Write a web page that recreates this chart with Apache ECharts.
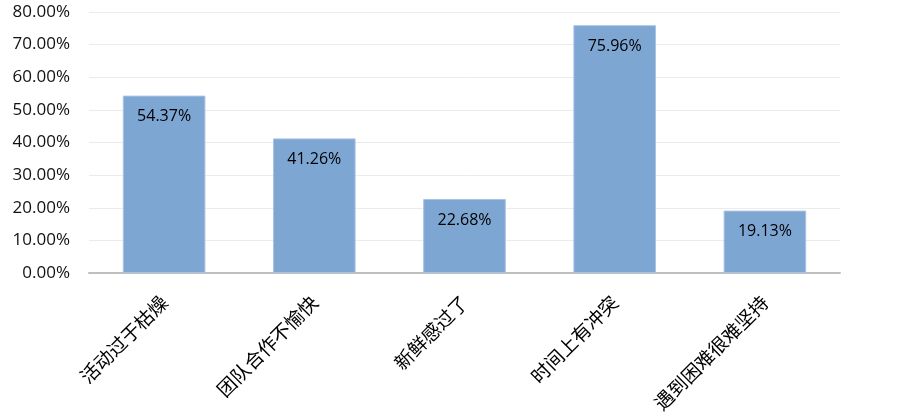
<!DOCTYPE html>
<html>
<head>
<meta charset="utf-8">
<script src="https://cdn.jsdelivr.net/npm/echarts@6/dist/echarts.min.js"></script>
<style>
  html, body { margin: 0; padding: 0; background: #fff; }
  #chart { width: 903px; height: 419px; }
</style>
</head>
<body>
<div id="chart"></div>
<script>
// 类别与数值（百分比）
const categories = ['活动过于枯燥', '团队合作不愉快', '新鲜感过了', '时间上有冲突', '遇到困难很难坚持'];
const values = [54.37, 41.26, 22.68, 75.96, 19.13];

const chart = echarts.init(document.getElementById('chart'), null, { renderer: 'canvas' });

const option = {
  backgroundColor: '#ffffff',
  animation: false,
  grid: {
    left: 89,
    right: 63,
    top: 12,
    bottom: 146
  },
  xAxis: {
    type: 'category',
    data: categories,
    axisLine: {
      lineStyle: { color: '#bfbfbf', width: 2 }
    },
    axisTick: { show: false },
    axisLabel: {
      rotate: 45,
      margin: 26,
      color: '#000',
      fontSize: 19,
      fontFamily: 'Noto Sans CJK SC'
    }
  },
  yAxis: {
    type: 'value',
    min: 0,
    max: 80,
    interval: 10,
    axisLine: { show: false },
    axisTick: { show: false },
    axisLabel: {
      margin: 19,
      color: '#111',
      fontSize: 17,
      fontFamily: 'Open Sans',
      formatter: v => v.toFixed(2) + '%'
    },
    splitLine: {
      lineStyle: { color: '#ebebeb', width: 1 }
    }
  },
  series: [{
    type: 'bar',
    data: values,
    barWidth: '55%',
    itemStyle: {
      color: '#7ea6d3',
      borderColor: '#a9c3e3',
      borderWidth: 1
    },
    label: {
      show: true,
      position: 'insideTop',
      distance: 13,
      color: '#000',
      fontSize: 16,
      fontFamily: 'Open Sans',
      formatter: p => p.value.toFixed(2) + '%'
    }
  }]
};

chart.setOption(option);
</script>
</body>
</html>
